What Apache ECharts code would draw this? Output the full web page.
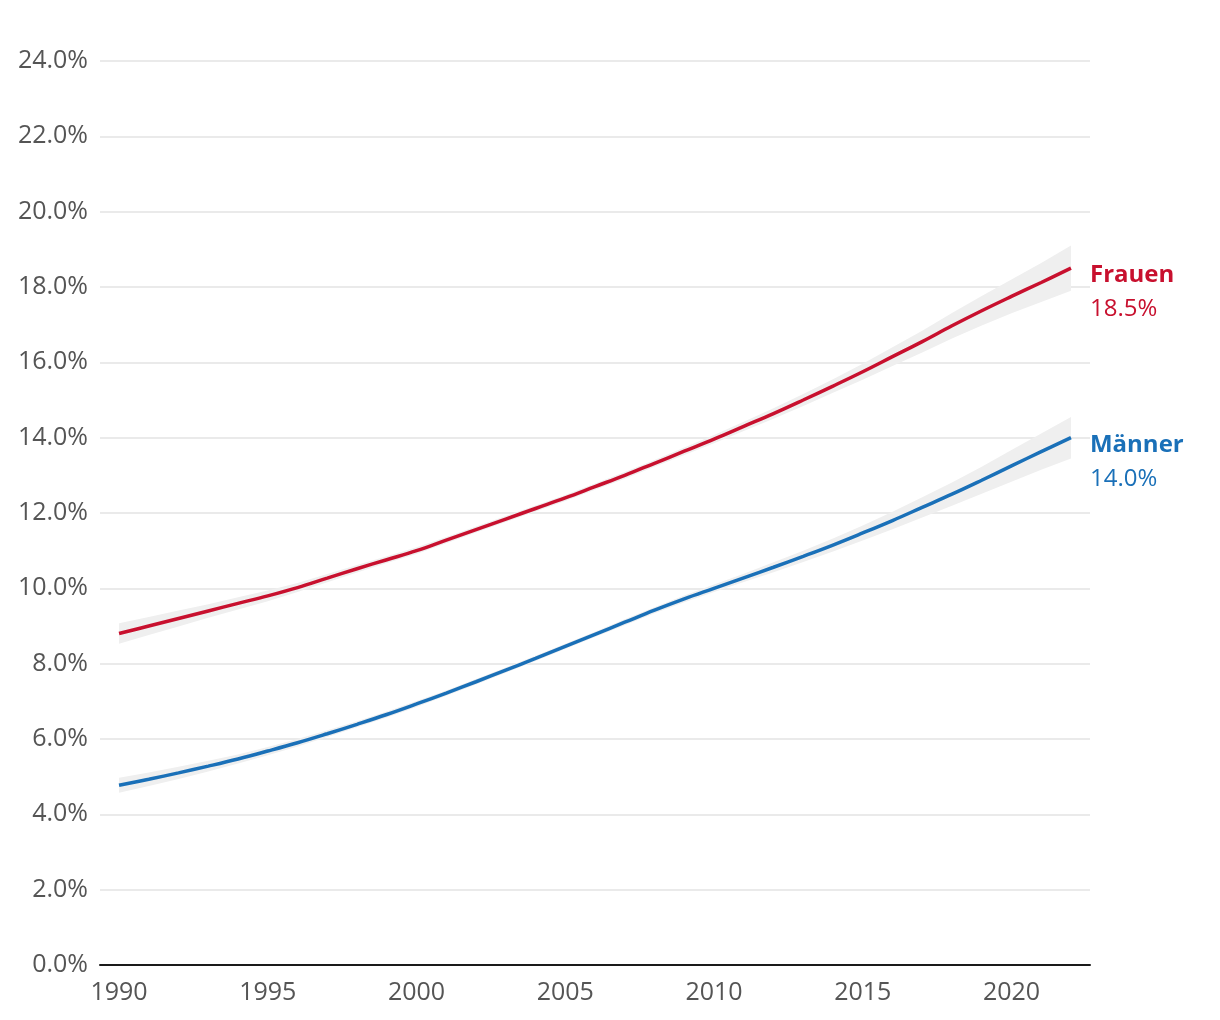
<!DOCTYPE html>
<html>
<head>
<meta charset="utf-8">
<script src="https://cdn.jsdelivr.net/npm/echarts@6/dist/echarts.min.js"></script>
<style>
html,body{margin:0;padding:0;background:#fff;}
#chart{width:1220px;height:1020px;}
</style>
</head>
<body>
<div id="chart"></div>
<script>
const years = [1990,1991,1992,1993,1994,1995,1996,1997,1998,1999,2000,2001,2002,2003,2004,2005,2006,2007,2008,2009,2010,2011,2012,2013,2014,2015,2016,2017,2018,2019,2020,2021,2022];
const frauen = [8.80,9.00,9.20,9.40,9.60,9.80,10.02,10.27,10.52,10.76,11.00,11.28,11.56,11.84,12.12,12.40,12.70,13.00,13.32,13.64,13.96,14.30,14.64,15.00,15.37,15.75,16.15,16.55,16.97,17.37,17.75,18.12,18.50];
const maenner = [4.77,4.93,5.10,5.28,5.47,5.68,5.90,6.14,6.39,6.65,6.93,7.22,7.52,7.83,8.14,8.46,8.78,9.10,9.42,9.72,10.00,10.28,10.56,10.85,11.15,11.47,11.80,12.15,12.50,12.87,13.25,13.63,14.00];
const frauenBand = [0.27,0.24,0.21,0.18,0.16,0.14,0.12,0.11,0.10,0.09,0.09,0.08,0.08,0.08,0.08,0.08,0.08,0.09,0.09,0.10,0.11,0.12,0.14,0.16,0.18,0.21,0.25,0.29,0.34,0.39,0.45,0.52,0.60];
const maennerBand = [0.20,0.18,0.16,0.14,0.12,0.11,0.10,0.09,0.08,0.08,0.08,0.07,0.07,0.07,0.07,0.07,0.07,0.08,0.08,0.09,0.10,0.11,0.13,0.15,0.17,0.20,0.23,0.27,0.31,0.36,0.42,0.48,0.55];
const xTickLabels = [1990,1995,2000,2005,2010,2015,2020];
const yTicks = {min:0, max:24, interval:2};
const names = {f:'Frauen', m:'Männer'};

const RED = '#c8102e', BLUE = '#1a70b8', BANDC = '#efefef';
const FONT = '"Open Sans", "Noto Sans", sans-serif';

function pairs(arr){ return years.map((y,i)=>[y,arr[i]]); }

function bandSeries(vals, band){
  return {
    type:'custom', silent:true, z:1, clip:true,
    data:[[years[0], vals[0]]],
    renderItem:(params, api)=>{
      const pts = [];
      for (let i=0;i<years.length;i++) pts.push(api.coord([years[i], vals[i]+band[i]]));
      for (let i=years.length-1;i>=0;i--) pts.push(api.coord([years[i], vals[i]-band[i]]));
      return {type:'polygon', shape:{points:pts}, style:{fill:BANDC}};
    }
  };
}
function mainSeries(vals, name, color){
  return {
    type:'line', name:name, data:pairs(vals), symbol:'none', smooth:0.4, z:3,
    lineStyle:{color:color, width:3.5},
    endLabel:{
      show:true, distance:0, offset:[19,24],
      formatter:p=>'{n|'+name+'}\n{v|'+p.value[1].toFixed(1)+'%}',
      rich:{
        n:{fontFamily:FONT, fontSize:24, fontWeight:'bold', color:color, lineHeight:34},
        v:{fontFamily:FONT, fontSize:24, color:color, lineHeight:34}
      }
    }
  };
}

const chart = echarts.init(document.getElementById('chart'), null, {renderer:'canvas'});
chart.setOption({
  animation:false,
  backgroundColor:'#fff',
  grid:{left:100, right:130, top:61, bottom:55, containLabel:false},
  xAxis:{
    type:'value', min:1989.36, max:2022.64,
    axisLine:{show:true, lineStyle:{color:'#1a1a1a', width:2}},
    axisTick:{show:false},
    splitLine:{show:false},
    axisLabel:{customValues:xTickLabels, formatter:v=>String(v), color:'#555', fontFamily:FONT, fontSize:25, margin:15}
  },
  yAxis:{
    type:'value', min:yTicks.min, max:yTicks.max, interval:yTicks.interval,
    axisLine:{show:false}, axisTick:{show:false},
    splitLine:{show:true, lineStyle:{color:'#e3e3e3', width:1.5}},
    axisLabel:{formatter:v=>v.toFixed(1)+'%', color:'#555', fontFamily:FONT, fontSize:25, margin:12}
  },
  series:[
    bandSeries(frauen, frauenBand),
    bandSeries(maenner, maennerBand),
    mainSeries(frauen, names.f, RED),
    mainSeries(maenner, names.m, BLUE)
  ]
});
</script>
</body>
</html>
